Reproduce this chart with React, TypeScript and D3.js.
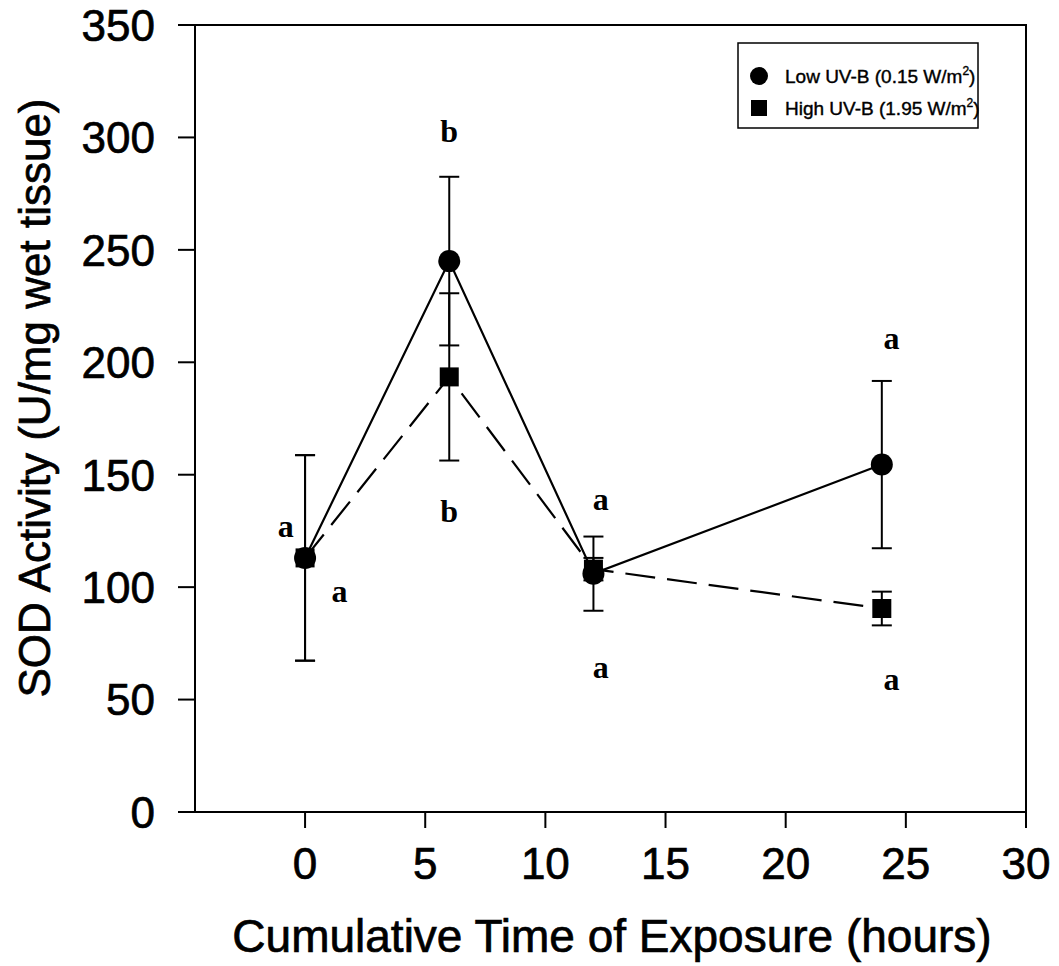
import React from "react";
import * as d3 from "d3";

const times = [0, 6, 12, 24];
const lowMean = [113, 245, 106, 154.5];
const lowErr = [45.7, 37.5, 16.5, 37.2];
const highMean = [113, 193.5, 108, 90.5];
const highErr = [45.7, 37.2, 5, 7.5];

const xTicks = [0, 5, 10, 15, 20, 25, 30];
const yTicks = [0, 50, 100, 150, 200, 250, 300, 350];

const letterText = ["b", "b", "a", "a", "a", "a", "a", "a"];
const letterX = [6, 6, -0.8, 1.43, 12.3, 12.3, 24.4, 24.4];
const letterY = [298, 129, 122.4, 93.5, 134.5, 59.7, 205.7, 54.3];

const legendLabels = ["Low UV-B (0.15 W/m", "High UV-B (1.95 W/m"];

const W = 1059;
const H = 966;
const left = 195, right = 1026, top = 25, bottom = 812;

export default function App() {
  const x = d3.scaleLinear().domain([-4.58, 30]).range([left, right]);
  const y = d3.scaleLinear().domain([0, 350]).range([bottom, top]);
  const line = d3.line<number>().x((_, i) => x(times[i])).y((v) => y(v));
  const sans = "'Liberation Sans', Arial, sans-serif";
  const serif = "'Liberation Serif', 'Times New Roman', serif";
  const cap = 10;

  const errBars = (means: number[], errs: number[], key: string) =>
    means.map((m, i) => {
      const cx = x(times[i]);
      const y1 = y(m + errs[i]);
      const y2 = y(m - errs[i]);
      return (
        <g key={key + i} stroke="#000" strokeWidth={2}>
          <line x1={cx} x2={cx} y1={y1} y2={y2} />
          <line x1={cx - cap} x2={cx + cap} y1={y1} y2={y1} />
          <line x1={cx - cap} x2={cx + cap} y1={y2} y2={y2} />
        </g>
      );
    });

  return (
    <svg width={W} height={H} style={{ position: "absolute", left: 0, top: 0, background: "#fff" }}>
      <rect x={0} y={0} width={W} height={H} fill="#fff" />
      <rect x={left} y={top} width={right - left} height={bottom - top} fill="none" stroke="#000" strokeWidth={2} />
      {yTicks.map((t) => (
        <g key={"yt" + t}>
          <line x1={left - 17} x2={left} y1={y(t)} y2={y(t)} stroke="#000" strokeWidth={2} />
          <text x={155} y={y(t)} dy="0.36em" textAnchor="end" fontFamily={sans} fontSize={44} stroke="#000" strokeWidth={0.7}>
            {t}
          </text>
        </g>
      ))}
      {xTicks.map((t) => (
        <g key={"xt" + t}>
          <line x1={x(t)} x2={x(t)} y1={bottom} y2={bottom + 16} stroke="#000" strokeWidth={2} />
          <text x={x(t)} y={879} textAnchor="middle" fontFamily={sans} fontSize={44} stroke="#000" strokeWidth={0.7}>
            {t}
          </text>
        </g>
      ))}
      <text x={612} y={952} textAnchor="middle" fontFamily={sans} fontSize={46} stroke="#000" strokeWidth={0.7}>
        Cumulative Time of Exposure (hours)
      </text>
      <text transform="translate(50,398) rotate(-90)" textAnchor="middle" fontFamily={sans} fontSize={44} stroke="#000" strokeWidth={0.7}>
        SOD Activity (U/mg wet tissue)
      </text>
      <path d={line(highMean) || ""} fill="none" stroke="#000" strokeWidth={2.2} strokeDasharray="30 12" />
      <path d={line(lowMean) || ""} fill="none" stroke="#000" strokeWidth={2.2} />
      {errBars(lowMean, lowErr, "le")}
      {errBars(highMean, highErr, "he")}
      {lowMean.map((m, i) => (
        <circle key={"lc" + i} cx={x(times[i])} cy={y(m)} r={11} fill="#000" />
      ))}
      {highMean.map((m, i) => (
        <rect key={"hs" + i} x={x(times[i]) - 9.5} y={y(m) - 9.5} width={19} height={19} fill="#000" />
      ))}
      {letterText.map((t, i) => (
        <text key={"lt" + i} x={x(letterX[i])} y={y(letterY[i])} textAnchor="middle" fontFamily={serif} fontWeight="bold" fontSize={32}>
          {t}
        </text>
      ))}
      <rect x={738} y={43} width={240} height={85} fill="#fff" stroke="#000" strokeWidth={1.5} />
      <circle cx={759} cy={76} r={9} fill="#000" />
      <rect x={751} y={100} width={16} height={16} fill="#000" />
      {legendLabels.map((l, i) => (
        <text key={"lg" + i} x={785} y={76 + i * 32} dy="0.36em" fontFamily={sans} fontSize={19} stroke="#000" strokeWidth={0.4}>
          {l}
          <tspan fontSize={12} dy={-8}>2</tspan>
          <tspan dy={8}>)</tspan>
        </text>
      ))}
    </svg>
  );
}
